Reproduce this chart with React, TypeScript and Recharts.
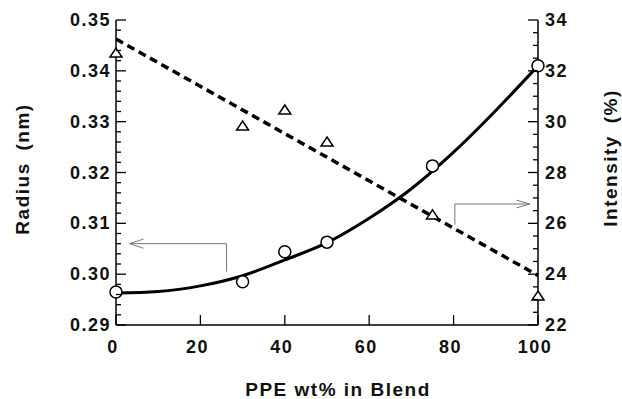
import React from 'react'
import { ComposedChart, Line, Scatter, XAxis, YAxis, Label } from 'recharts'

// measured points
const ppe = [0, 30, 40, 50, 75, 100]
const radius = [0.2965, 0.2985, 0.3044, 0.3063, 0.3213, 0.341]
const intensity = [32.7, 29.83, 30.46, 29.2, 26.33, 23.14]

// fitted curve (radius) and trend line (intensity)
const fitX = [0, 10, 20, 30, 40, 50, 60, 70, 80, 90, 100]
const radiusFit = [0.2963, 0.2966, 0.2977, 0.2997, 0.3028, 0.3062, 0.311, 0.3168, 0.324, 0.3322, 0.341]
const trendX = [0, 100]
const intensityTrend = [33.25, 23.95]

// arrows pointing each series to its axis
const leftArrowX = [26.2, 26.2, 3.2]
const leftArrowY = [0.3005, 0.306, 0.306]
const leftHeadX = [6.5, 3.2, 6.5]
const leftHeadY = [0.3069, 0.306, 0.3051]
const rightArrowX = [80.3, 80.3, 98.1]
const rightArrowY = [25.94, 26.76, 26.76]
const rightHeadX = [94.9, 98.1, 94.9]
const rightHeadY = [26.91, 26.76, 26.61]

const xTicks = [0, 20, 40, 60, 80, 100]
const radiusMajor = [0.29, 0.3, 0.31, 0.32, 0.33, 0.34, 0.35]
const radiusTicks = [
  0.29, 0.292, 0.294, 0.296, 0.298, 0.3, 0.302, 0.304, 0.306, 0.308, 0.31, 0.312, 0.314, 0.316, 0.318,
  0.32, 0.322, 0.324, 0.326, 0.328, 0.33, 0.332, 0.334, 0.336, 0.338, 0.34, 0.342, 0.344, 0.346, 0.348, 0.35,
]
const intensityMajor = [22, 24, 26, 28, 30, 32, 34]
const intensityTicks = [
  22, 22.5, 23, 23.5, 24, 24.5, 25, 25.5, 26, 26.5, 27, 27.5, 28, 28.5, 29, 29.5, 30, 30.5, 31, 31.5, 32,
  32.5, 33, 33.5, 34,
]

const pts = (xs: number[], ys: number[]) => xs.map((x, i) => ({ x, y: ys[i] }))

const font = '"Liberation Sans", Arial, Helvetica, sans-serif'
const tickStyle = { fontFamily: font, fontWeight: 700, fontSize: 18, letterSpacing: 1.5, fill: '#111' }
const titleStyle = { fontFamily: font, fontWeight: 700, fontSize: 19, letterSpacing: 1.5, fill: '#111' }
const isMajor = (list: number[], v: number) => list.some((m) => Math.abs(m - v) < 1e-9)

const LeftTick = ({ x, y, payload }: any) => {
  const major = isMajor(radiusMajor, payload.value)
  return (
    <g>
      <line x1={x} x2={x + (major ? 10 : 5)} y1={y} y2={y} stroke="#000" strokeWidth={1.3} />
      {major && (
        <text x={x - 5} y={y} textAnchor="end" dominantBaseline="central" style={tickStyle}>
          {payload.value.toFixed(2)}
        </text>
      )}
    </g>
  )
}

const RightTick = ({ x, y, payload }: any) => {
  const major = isMajor(intensityMajor, payload.value)
  return (
    <g>
      <line x1={x} x2={x - (major ? 10 : 5)} y1={y} y2={y} stroke="#000" strokeWidth={1.3} />
      {major && (
        <text x={x + 7} y={y} textAnchor="start" dominantBaseline="central" style={tickStyle}>
          {payload.value}
        </text>
      )}
    </g>
  )
}

const BottomTick = ({ x, y, payload }: any) => (
  <g>
    <line x1={x} x2={x} y1={y} y2={y - 10} stroke="#000" strokeWidth={1.3} />
    <text x={x - 3} y={y + 22} textAnchor="middle" dominantBaseline="central" style={tickStyle}>
      {payload.value}
    </text>
  </g>
)

const TopTick = ({ x, y }: any) => <line x1={x} x2={x} y1={y} y2={y + 10} stroke="#000" strokeWidth={1.3} />

const circle = (p: any) => <circle cx={p.cx} cy={p.cy} r={6} fill="#fff" stroke="#000" strokeWidth={1.5} />
const triangle = (p: any) => (
  <path
    d={`M${p.cx},${p.cy - 5} L${p.cx + 6},${p.cy + 4} L${p.cx - 6},${p.cy + 4} Z`}
    fill="#fff"
    stroke="#000"
    strokeWidth={1.5}
  />
)

const axisLine = { stroke: '#000', strokeWidth: 1.5 }

export default function App() {
  return (
    <div style={{ position: 'absolute', left: 0, top: 0, background: '#fff' }}>
      <ComposedChart width={622} height={399} margin={{ top: 20, right: 0, bottom: 0, left: 0 }}>
        <XAxis
          dataKey="x"
          type="number"
          domain={[0, 100]}
          ticks={xTicks}
          interval={0}
          height={74}
          tickSize={0}
          tickMargin={0}
          tickLine={false}
          axisLine={axisLine}
          tick={BottomTick}
        >
          <Label
            content={() => (
              <text x={338} y={389} textAnchor="middle" dominantBaseline="central" style={titleStyle}>
                PPE wt% in Blend
              </text>
            )}
          />
        </XAxis>
        <XAxis
          xAxisId="top"
          orientation="top"
          dataKey="x"
          type="number"
          domain={[0, 100]}
          ticks={xTicks}
          interval={0}
          height={0}
          tickSize={0}
          tickMargin={0}
          tickLine={false}
          axisLine={axisLine}
          tick={TopTick}
        />
        <YAxis
          yAxisId="left"
          type="number"
          domain={[0.29, 0.35]}
          ticks={radiusTicks}
          interval={0}
          width={116}
          tickSize={0}
          tickMargin={0}
          tickLine={false}
          axisLine={axisLine}
          tick={LeftTick}
          allowDataOverflow
        >
          <Label
            content={() => (
              <text
                x={22}
                y={169}
                transform="rotate(-90 22 169)"
                textAnchor="middle"
                dominantBaseline="central"
                style={{ ...titleStyle, wordSpacing: 5 }}
              >
                Radius (nm)
              </text>
            )}
          />
        </YAxis>
        <YAxis
          yAxisId="right"
          orientation="right"
          type="number"
          domain={[22, 34]}
          ticks={intensityTicks}
          interval={0}
          width={84}
          tickSize={0}
          tickMargin={0}
          tickLine={false}
          axisLine={axisLine}
          tick={RightTick}
          allowDataOverflow
        >
          <Label
            content={() => (
              <text
                x={610}
                y={158}
                transform="rotate(-90 610 158)"
                textAnchor="middle"
                dominantBaseline="central"
                style={{ ...titleStyle, wordSpacing: 5 }}
              >
                Intensity (%)
              </text>
            )}
          />
        </YAxis>

        <Line yAxisId="left" data={pts(leftArrowX, leftArrowY)} dataKey="y" type="linear" stroke="#777" strokeWidth={1} dot={false} isAnimationActive={false} />
        <Line yAxisId="left" data={pts(leftHeadX, leftHeadY)} dataKey="y" type="linear" stroke="#777" strokeWidth={1} dot={false} isAnimationActive={false} />
        <Line yAxisId="right" data={pts(rightArrowX, rightArrowY)} dataKey="y" type="linear" stroke="#777" strokeWidth={1} dot={false} isAnimationActive={false} />
        <Line yAxisId="right" data={pts(rightHeadX, rightHeadY)} dataKey="y" type="linear" stroke="#777" strokeWidth={1} dot={false} isAnimationActive={false} />

        <Line yAxisId="right" data={pts(trendX, intensityTrend)} dataKey="y" type="linear" stroke="#000" strokeWidth={3.5} strokeDasharray="8 5" dot={false} isAnimationActive={false} />
        <Line yAxisId="left" data={pts(fitX, radiusFit)} dataKey="y" type="monotone" stroke="#000" strokeWidth={3} dot={false} isAnimationActive={false} />

        <Scatter yAxisId="right" data={pts(ppe, intensity)} dataKey="y" shape={triangle} isAnimationActive={false} />
        <Scatter yAxisId="left" data={pts(ppe, radius)} dataKey="y" shape={circle} isAnimationActive={false} />
      </ComposedChart>
    </div>
  )
}
